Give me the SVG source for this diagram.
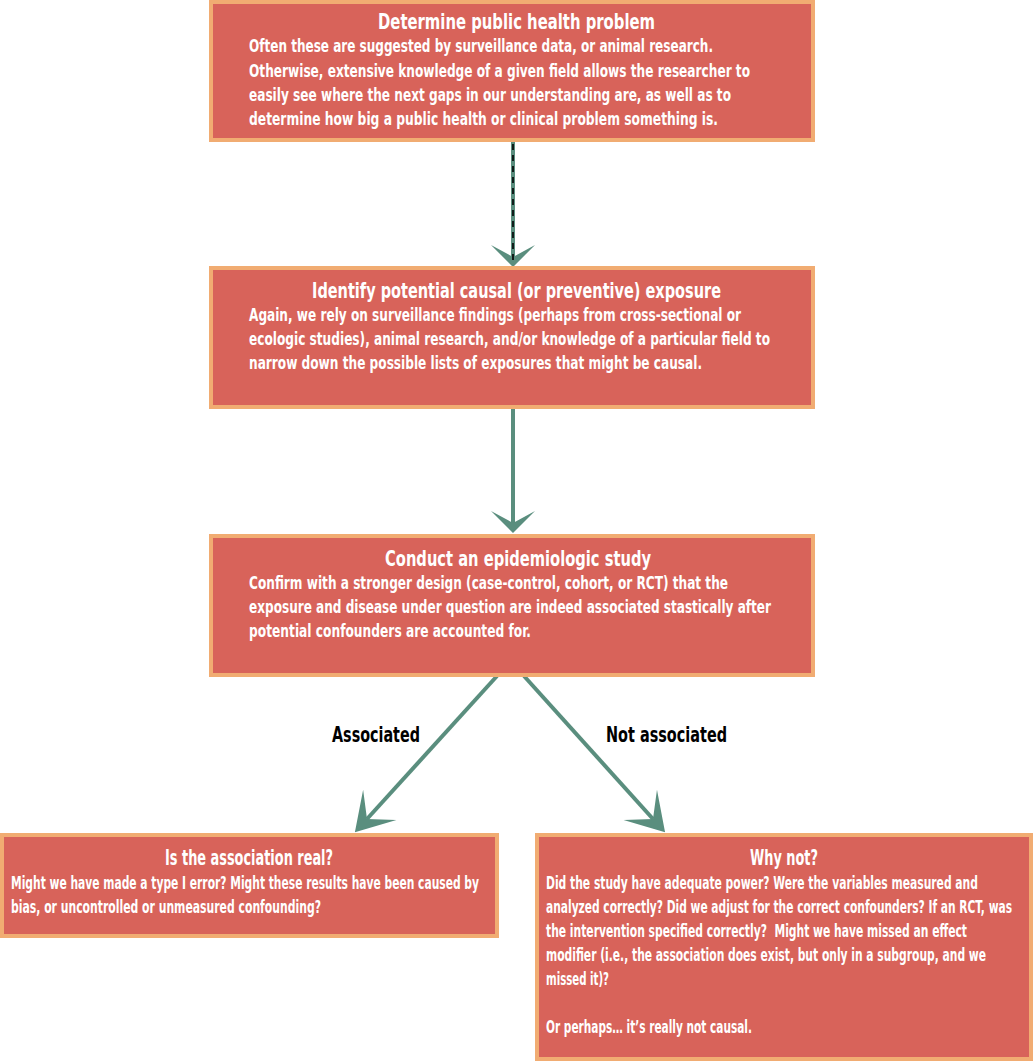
<svg xmlns="http://www.w3.org/2000/svg" width="1034" height="1062" viewBox="0 0 1034 1062">
<style>
.box{fill:#d8635a;stroke:#f1ac72;stroke-width:4}
text{font-family:"Liberation Sans Narrow","DejaVu Sans Condensed","Liberation Sans",sans-serif;font-weight:bold}
.t{fill:#ffffff;font-size:22px;text-anchor:middle}
.b{fill:#ffffff;font-size:17.5px}
.lbl{fill:#000000;font-size:21px}
.conn{stroke:#5a8e7e;stroke-width:4;fill:none}
</style>
<defs>
<marker id="hv" markerUnits="userSpaceOnUse" viewBox="-14 -24 26 48" refX="0" refY="0" markerWidth="26" markerHeight="48" orient="auto">
<path d="M10,0 L-12,-22 L0,0 L-12,22 Z" fill="#5a8e7e"/>
</marker>
<marker id="hd" markerUnits="userSpaceOnUse" viewBox="-22 -25 44 50" refX="0" refY="0" markerWidth="44" markerHeight="50" orient="auto">
<path d="M18,0 L-19,-22.5 L0,0 L-19,22.5 Z" fill="#5a8e7e"/>
</marker>
</defs>
<g id="connectors">
<line class="conn" x1="513" y1="142" x2="513" y2="257" marker-end="url(#hv)"/>
<line x1="513" y1="144" x2="513" y2="262" stroke="#000" stroke-width="1.6" stroke-dasharray="6,5"/>
<line class="conn" x1="513" y1="409" x2="513" y2="523" marker-end="url(#hv)"/>
<line class="conn" x1="497" y1="676" x2="367" y2="819" marker-end="url(#hd)"/>
<line class="conn" x1="524" y1="676" x2="653" y2="819" marker-end="url(#hd)"/>
<text class="lbl" transform="translate(332,742) scale(0.7,1)" textLength="125.7" lengthAdjust="spacingAndGlyphs">Associated</text>
<text class="lbl" transform="translate(606,742) scale(0.7,1)" textLength="172.9" lengthAdjust="spacingAndGlyphs">Not associated</text>
</g>
<g id="node1">
<rect class="box" x="211" y="2" width="602" height="138"/>
<text class="t" transform="translate(516.5,29) scale(0.7,1)" textLength="395.7" lengthAdjust="spacingAndGlyphs">Determine public health problem</text>
<text class="b" transform="translate(249,52) scale(0.66,1)" textLength="703" lengthAdjust="spacingAndGlyphs">Often these are suggested by surveillance data, or animal research.</text>
<text class="b" transform="translate(249,77) scale(0.66,1)" textLength="759.1" lengthAdjust="spacingAndGlyphs">Otherwise, extensive knowledge of a given field allows the researcher to</text>
<text class="b" transform="translate(249,101) scale(0.66,1)" textLength="730.3" lengthAdjust="spacingAndGlyphs">easily see where the next gaps in our understanding are, as well as to</text>
<text class="b" transform="translate(249,125) scale(0.66,1)" textLength="710.6" lengthAdjust="spacingAndGlyphs">determine how big a public health or clinical problem something is.</text>
</g>
<g id="node2">
<rect class="box" x="211" y="268" width="602" height="139"/>
<text class="t" transform="translate(516.5,298) scale(0.7,1)" textLength="584.3" lengthAdjust="spacingAndGlyphs">Identify potential causal (or preventive) exposure</text>
<text class="b" transform="translate(249,321) scale(0.66,1)" textLength="745.5" lengthAdjust="spacingAndGlyphs">Again, we rely on surveillance findings (perhaps from cross-sectional or</text>
<text class="b" transform="translate(249,345) scale(0.66,1)" textLength="789.4" lengthAdjust="spacingAndGlyphs">ecologic studies), animal research, and/or knowledge of a particular field to</text>
<text class="b" transform="translate(249,369) scale(0.66,1)" textLength="686.4" lengthAdjust="spacingAndGlyphs">narrow down the possible lists of exposures that might be causal.</text>
</g>
<g id="node3">
<rect class="box" x="211" y="536" width="602" height="139"/>
<text class="t" transform="translate(518,566) scale(0.7,1)" textLength="380" lengthAdjust="spacingAndGlyphs">Conduct an epidemiologic study</text>
<text class="b" transform="translate(249,589) scale(0.66,1)" textLength="725.8" lengthAdjust="spacingAndGlyphs">Confirm with a stronger design (case-control, cohort, or RCT) that the</text>
<text class="b" transform="translate(249,613) scale(0.66,1)" textLength="790.9" lengthAdjust="spacingAndGlyphs">exposure and disease under question are indeed associated stastically after</text>
<text class="b" transform="translate(249,637) scale(0.66,1)" textLength="427.3" lengthAdjust="spacingAndGlyphs">potential confounders are accounted for.</text>
</g>
<g id="node4">
<rect class="box" x="2" y="835" width="495" height="101"/>
<text class="t" transform="translate(249,865) scale(0.7,1)" textLength="240" lengthAdjust="spacingAndGlyphs">Is the association real?</text>
<text class="b" transform="translate(11,889) scale(0.66,1)" textLength="709.1" lengthAdjust="spacingAndGlyphs">Might we have made a type I error? Might these results have been caused by</text>
<text class="b" transform="translate(11,913) scale(0.66,1)" textLength="469.7" lengthAdjust="spacingAndGlyphs">bias, or uncontrolled or unmeasured confounding?</text>
</g>
<g id="node5">
<rect class="box" x="537" y="835" width="494" height="224"/>
<text class="t" transform="translate(784,865) scale(0.7,1)" textLength="97.1" lengthAdjust="spacingAndGlyphs">Why not?</text>
<text class="b" transform="translate(546,889) scale(0.66,1)" textLength="654.5" lengthAdjust="spacingAndGlyphs">Did the study have adequate power? Were the variables measured and</text>
<text class="b" transform="translate(546,913) scale(0.66,1)" textLength="706.1" lengthAdjust="spacingAndGlyphs">analyzed correctly? Did we adjust for the correct confounders? If an RCT, was</text>
<text class="b" transform="translate(546,937) scale(0.66,1)" textLength="637.9" lengthAdjust="spacingAndGlyphs" xml:space="preserve">the intervention specified correctly?  Might we have missed an effect</text>
<text class="b" transform="translate(546,961) scale(0.66,1)" textLength="666.7" lengthAdjust="spacingAndGlyphs">modifier (i.e., the association does exist, but only in a subgroup, and we</text>
<text class="b" transform="translate(546,985) scale(0.66,1)" textLength="95.5" lengthAdjust="spacingAndGlyphs">missed it)?</text>
<text class="b" transform="translate(546,1033) scale(0.66,1)" textLength="312.1" lengthAdjust="spacingAndGlyphs">Or perhaps… it’s really not causal.</text>
</g>
</svg>
